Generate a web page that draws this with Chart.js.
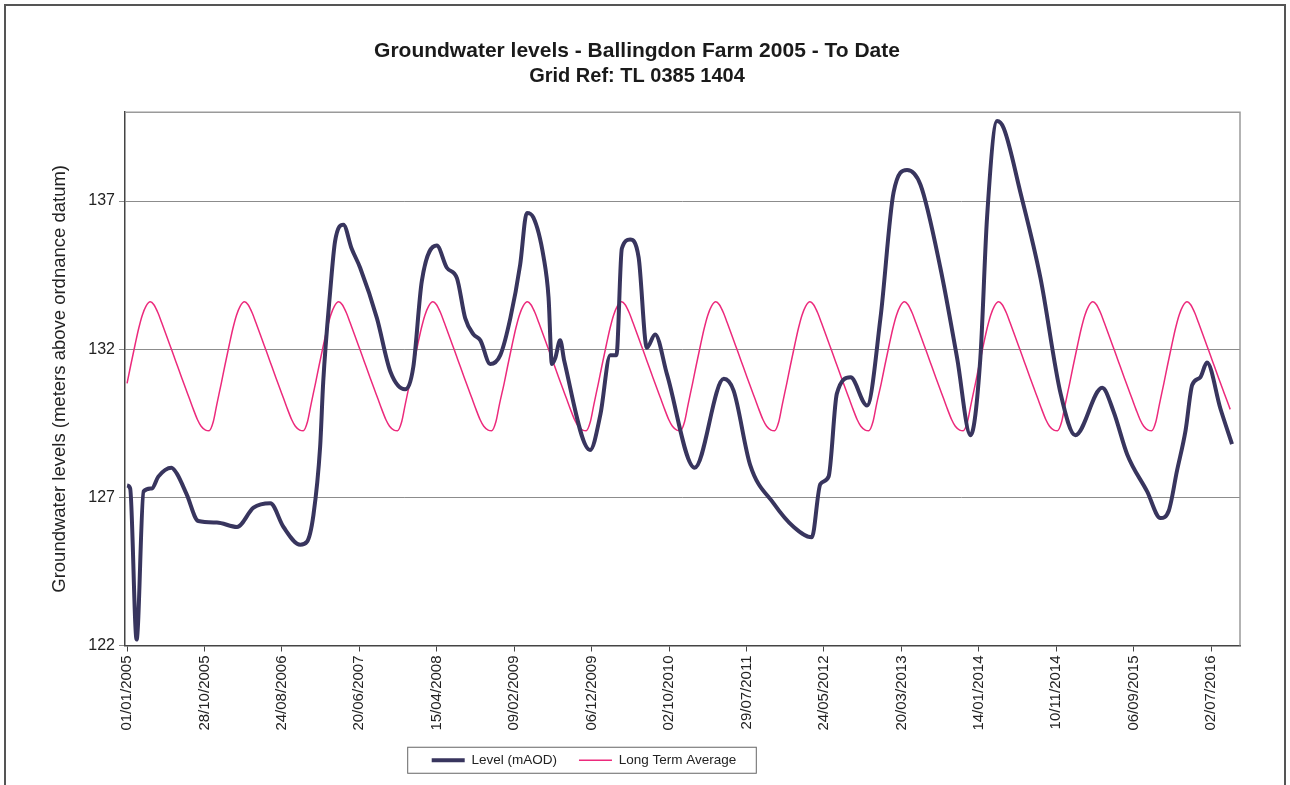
<!DOCTYPE html>
<html>
<head>
<meta charset="utf-8">
<title>Groundwater levels - Ballingdon Farm</title>
<script src="https://cdn.jsdelivr.net/npm/chart.js@4/dist/chart.umd.min.js"></script>
<style>
  html, body { margin: 0; padding: 0; background: #fff; }
  #wrap { width: 1290px; height: 785px; position: relative; }
</style>
</head>
<body>
<div id="wrap"><canvas id="levelsChart" width="1290" height="785"></canvas></div>
<script>
// days counted from 01/01/2005
const levelDays = [0, 12, 37, 64, 96, 121, 172, 193, 231, 276, 348,
  426, 490, 555, 606, 671, 697, 722,
  748, 760, 787, 806, 838, 870, 903, 968, 1020, 1077,
  1109, 1142, 1200, 1239, 1278, 1310, 1342, 1369, 1407, 1446,
  1485, 1523, 1549, 1574, 1614, 1633, 1646, 1659, 1678, 1694, 1794, 1834,
  1872, 1896, 1917, 1949, 1982, 2014, 2046, 2092, 2199,
  2312, 2350, 2414, 2505,
  2583, 2653, 2686, 2718, 2750, 2803, 2867, 2919,
  2970, 3022, 3074, 3151, 3216, 3268, 3306,
  3332, 3371, 3397, 3461, 3539, 3617, 3674,
  3778, 3822, 3875, 3952, 4004, 4036,
  4068, 4101, 4127, 4158, 4184, 4236, 4281];
const levelValues = [127.4, 127.3, 122.2, 127.2, 127.3, 127.7, 128.0, 127.8, 127.1, 126.2, 126.15,
  126.0, 126.65, 126.8, 126.0, 125.4, 125.5, 126.4,
  128.7, 130.9, 133.95, 135.65, 136.2, 135.4, 134.75, 133.05, 131.25, 130.65,
  131.4, 134.3, 135.5, 134.75, 134.4, 133.05, 132.5, 132.3, 131.5, 131.8,
  133.05, 134.85, 136.6, 136.45, 135.1, 133.75, 131.5, 131.7, 132.3, 131.6, 128.6, 129.8,
  131.8, 131.8, 135.4, 135.7, 135.1, 132.05, 132.5, 131.15, 128.0,
  131.0, 130.6, 128.1, 126.8,
  126.0, 125.65, 127.45, 127.7, 130.5, 131.05, 130.1, 133.05,
  137.3, 138.05, 137.55, 134.75, 131.7, 129.1, 131.7,
  136.45, 139.7, 139.45, 137.3, 134.4, 130.5, 129.1,
  130.7, 129.9, 128.45, 127.2, 126.3, 126.55,
  127.9, 129.25, 130.8, 131.05, 131.55, 130.0, 128.8];

// long term average: same yearly profile (1st and 15th of each month)
const ltaDayOfYear = [0, 14, 31, 45, 59, 73, 90, 104, 120, 134, 151, 165,
  181, 195, 212, 226, 243, 257, 273, 287, 304, 318, 334, 348];
const ltaValues = [130.85, 131.45, 132.15, 132.7, 133.15, 133.45, 133.6, 133.5, 133.22, 132.9, 132.5, 132.16,
  131.78, 131.44, 131.03, 130.7, 130.3, 129.97, 129.62, 129.4, 129.27, 129.25, 129.55, 130.15];
const ltaYears = [2005, 2006, 2007, 2008, 2009, 2010, 2011, 2012, 2013, 2014, 2015, 2016];
const ltaEndDay = 4276;

const tickDays = [0, 300, 600, 900, 1200, 1500, 1800, 2100, 2400, 2700, 3000, 3300, 3600, 3900, 4200];
const yTicks = [122, 127, 132, 137];

const DAY = 86400000;
const START = Date.UTC(2005, 0, 1);
const FONT = "'Liberation Sans', Arial, sans-serif";

function dayLabel(d) {
  const dt = new Date(START + d * DAY);
  const dd = String(dt.getUTCDate()).padStart(2, '0');
  const mm = String(dt.getUTCMonth() + 1).padStart(2, '0');
  return dd + '/' + mm + '/' + dt.getUTCFullYear();
}

const levelPoints = levelDays.map((d, i) => ({ x: d, y: levelValues[i] }));

const ltaPoints = [];
ltaYears.forEach(year => {
  const offset = Math.round((Date.UTC(year, 0, 1) - START) / DAY);
  ltaDayOfYear.forEach((d, i) => {
    if (offset + d <= ltaEndDay) ltaPoints.push({ x: offset + d, y: ltaValues[i] });
  });
});

const framePlugin = {
  id: 'frames',
  beforeDraw(chart) {
    const ctx = chart.ctx;
    ctx.save();
    ctx.strokeStyle = '#555';
    ctx.lineWidth = 2;
    ctx.strokeRect(5, 5, 1280, 800);
    ctx.restore();
  },
  beforeDatasetsDraw(chart) {
    const { ctx, chartArea } = chart;
    ctx.save();
    ctx.strokeStyle = '#9a9a9a';
    ctx.lineWidth = 1.5;
    ctx.beginPath();
    ctx.moveTo(chartArea.left, chartArea.top);
    ctx.lineTo(chartArea.right, chartArea.top);
    ctx.lineTo(chartArea.right, chartArea.bottom);
    ctx.stroke();
    ctx.restore();
  },
  afterLayout(chart) {
    // nudge the legend left and the titles right, like the original sheet
    const lg = chart.legend;
    lg.left -= 41;
    lg.right -= 41;
    chart.boxes.forEach(box => {
      if (box !== lg && box.position === 'top' && box.options && typeof box.options.text === 'string') {
        box.left += 12;
        box.right += 12;
      }
    });
  },
  afterDraw(chart) {
    const lg = chart.legend;
    const boxes = lg.legendHitBoxes;
    if (!boxes || !boxes.length) return;
    const left = Math.min(...boxes.map(b => b.left)) - 24;
    const right = Math.max(...boxes.map(b => b.left + b.width)) + 20;
    const cy = boxes[0].top + boxes[0].height / 2;
    const ctx = chart.ctx;
    ctx.save();
    ctx.strokeStyle = '#666';
    ctx.lineWidth = 1;
    ctx.strokeRect(left, cy - 13, right - left, 26);
    ctx.restore();
  }
};

Chart.defaults.font.family = FONT;
Chart.defaults.color = '#222';

new Chart(document.getElementById('levelsChart'), {
  type: 'line',
  data: {
    datasets: [{
      label: 'Level (mAOD)',
      data: levelPoints,
      borderColor: '#38355e',
      backgroundColor: '#38355e',
      borderWidth: 4,
      pointRadius: 0,
      cubicInterpolationMode: 'monotone'
    }, {
      label: 'Long Term Average',
      data: ltaPoints,
      borderColor: '#ec2a7c',
      backgroundColor: '#ec2a7c',
      borderWidth: 1.5,
      pointRadius: 0,
      cubicInterpolationMode: 'monotone'
    }]
  },
  options: {
    responsive: false,
    animation: false,
    devicePixelRatio: 1,
    layout: { padding: { left: 10, right: 50, top: 0, bottom: 8 } },
    scales: {
      x: {
        type: 'linear',
        min: -8,
        max: 4312,
        afterBuildTicks: scale => { scale.ticks = tickDays.map(v => ({ value: v })); },
        afterFit: scale => { scale.height = 86; },
        ticks: {
          callback: v => dayLabel(v),
          minRotation: 90,
          maxRotation: 90,
          autoSkip: false,
          padding: 4,
          color: '#222',
          font: { size: 15 }
        },
        grid: { drawOnChartArea: false, drawTicks: true, tickLength: 6, color: '#444' },
        border: { color: '#444', width: 1.5 }
      },
      y: {
        min: 122,
        max: 140,
        afterBuildTicks: scale => { scale.ticks = yTicks.map(v => ({ value: v })); },
        afterFit: scale => { scale.width = 115; },
        ticks: { padding: 4, color: '#222', font: { size: 16 } },
        grid: { color: '#8c8c8c', lineWidth: 1, tickLength: 6 },
        border: { color: '#444', width: 1.5 },
        title: {
          display: true,
          text: 'Groundwater levels (meters above ordnance datum)',
          color: '#222',
          font: { size: 18.5 },
          padding: { top: 39, bottom: 0 }
        }
      }
    },
    plugins: {
      title: {
        display: true,
        text: 'Groundwater levels - Ballingdon Farm 2005 - To Date',
        color: '#1a1a1a',
        font: { size: 21, weight: 'bold' },
        padding: { top: 39, bottom: 0 }
      },
      subtitle: {
        display: true,
        text: 'Grid Ref: TL 0385 1404',
        color: '#1a1a1a',
        font: { size: 20, weight: 'bold' },
        padding: { top: 0, bottom: 24 }
      },
      legend: {
        position: 'bottom',
        labels: {
          usePointStyle: true,
          pointStyle: 'line',
          pointStyleWidth: 33,
          padding: 22,
          color: '#222',
          font: { size: 13.5 }
        }
      },
      tooltip: { enabled: false }
    }
  },
  plugins: [framePlugin]
});
</script>
</body>
</html>
